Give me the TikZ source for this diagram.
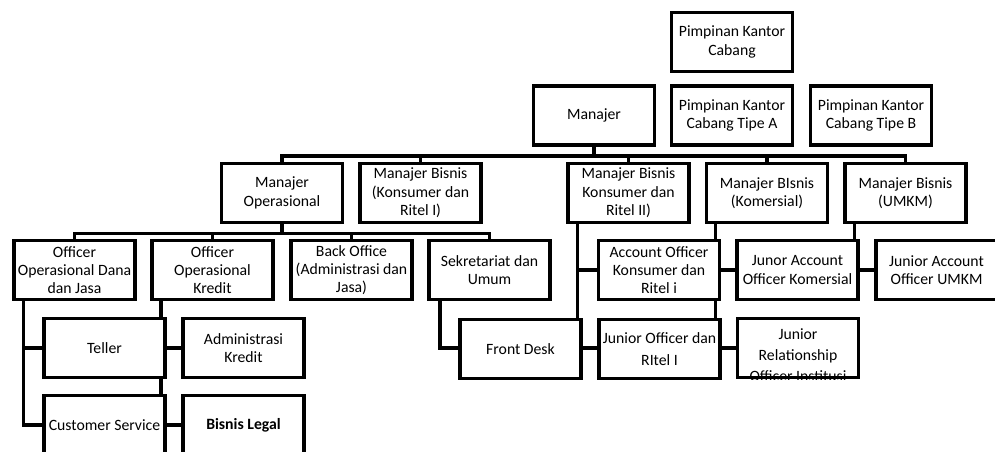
\documentclass[tikz,border=0pt]{standalone}
\usepackage{fontspec}
\setmainfont{Carlito}
\usetikzlibrary{backgrounds}
\begin{document}
\begin{tikzpicture}[x=0.75pt,y=-0.75pt,
  box/.style={draw, line width=2.4pt, fill=white, minimum width=90.75pt, minimum height=44.25pt,
    align=center, inner sep=1pt, font=\fontsize{11.8}{13.75}\selectfont},
  link/.style={line width=2.4pt}]
\useasboundingbox (0,0) rectangle (995,452);
\clip (0,0) rectangle (995,452);

% top
\node[box] (pkc) at (732,42) {Pimpinan Kantor\\Cabang};
\node[box] (man) at (594,115.5) {Manajer};
\node[box] (tpa) at (732,115.5) {Pimpinan Kantor\\Cabang Tipe A};
\node[box] (tpb) at (871,115.5) {Pimpinan Kantor\\Cabang Tipe B};

% managers
\node[box] (mop) at (282,193) {Manajer\\Operasional};
\node[box] (mb1) at (420.5,193) {Manajer Bisnis\\(Konsumer dan\\Ritel I)};
\node[box] (mb2) at (628.5,193) {Manajer Bisnis\\Konsumer dan\\Ritel II)};
\node[box] (mbk) at (767,193) {Manajer BIsnis\\(Komersial)};
\node[box] (mbu) at (905.5,193) {Manajer Bisnis\\(UMKM)};

% officers
\node[box] (ood) at (74.5,270) {Officer\\Operasional Dana\\dan Jasa};
\node[box] (ook) at (212.5,270) {Officer\\Operasional\\Kredit};
\node[box] (bo) at (351.5,270) {Back Office\\(Administrasi dan\\Jasa)};
\node[box] (sek) at (489.5,270) {Sekretariat dan\\Umum};
\node[box] (ao) at (659,270) {Account Officer\\Konsumer dan\\Ritel i};
\node[box] (jak) at (797.5,270) {Junor Account\\Officer Komersial};
\node[box] (jau) at (936.5,270) {Junior Account\\Officer UMKM};

% staff
\node[box] (tel) at (104.5,348) {Teller};
\node[box] (adk) at (243.5,348) {Administrasi\\Kredit};
\node[box] (fd) at (520.5,349) {Front Desk};
\node[box, font=\fontsize{11.8}{16.5}\selectfont] (jo) at (659.5,349) {Junior Officer dan\\RItel I};
\node[box] (jr) at (798,348) {};
\begin{scope}
  \clip (jr.south west) rectangle (jr.north east);
  \node[align=center, font=\fontsize{11.8}{15.75}\selectfont] (jrt) at (798,355.5) {Junior\\Relationship\\Officer Institusi};
\end{scope}
\node[box] (cs) at (104.5,425) {Customer Service};
\node[box, font=\fontsize{11.8}{13.75}\selectfont\bfseries] (bl) at (243.5,425) {Bisnis Legal};

\begin{scope}[on background layer]
\foreach \c in {mop,mb1,mb2,mbk,mbu}
  \draw[link] (man.south) -- ++(0,9.5) -| (\c.north);
\foreach \c in {ood,ook,bo,sek}
  \draw[link] (mop.south) -- ++(0,9.5) -| (\c.north);

\draw[link] ([xshift=8.6pt]ood.south west) |- (tel.west);
\draw[link] ([xshift=8.6pt]ood.south west) |- (cs.west);
\draw[link] ([xshift=7.9pt]ook.south west) |- (adk.west);
\draw[link] ([xshift=7.9pt]ook.south west) |- (bl.west);
\draw[link] ([xshift=9.4pt]sek.south west) |- ([yshift=0.75pt]fd.west);
\draw[link] ([xshift=8.6pt]mb2.south west) |- (ao.west);
\draw[link] ([xshift=8.6pt]mb2.south west) |- ([yshift=0.75pt]jo.west);
\draw[link] ([xshift=7.9pt]mbk.south west) |- (jak.west);
\draw[link] ([xshift=7.9pt]mbk.south west) |- (jr.west);
\draw[link] ([xshift=8.6pt]mbu.south west) |- (jau.west);
\end{scope}
\end{tikzpicture}
\end{document}
